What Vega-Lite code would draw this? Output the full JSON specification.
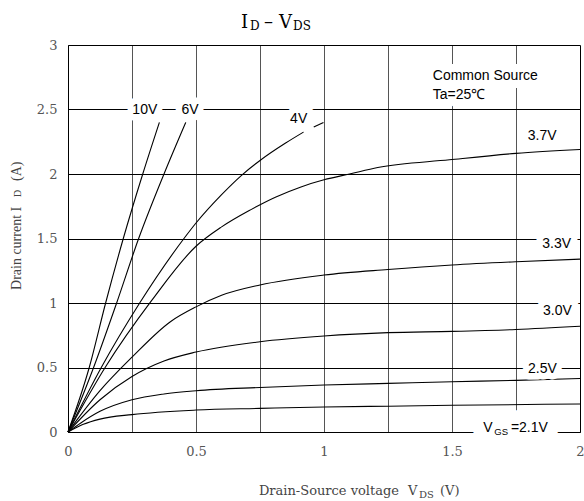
{
  "$schema": "https://vega.github.io/schema/vega-lite/v6.json",
  "width": 512,
  "height": 387,
  "autosize": {"type": "none"},
  "padding": {"left": 68, "top": 45, "right": 4, "bottom": 69},
  "background": "white",
  "config": {"view": {"stroke": null}},
  "datasets": {
    "curves": [
      {"g": "10V", "p": "a", "v": 0, "i": 0}, {"g": "10V", "p": "a", "v": 0.083, "i": 0.5}, {"g": "10V", "p": "a", "v": 0.147, "i": 1.0}, {"g": "10V", "p": "a", "v": 0.216, "i": 1.5}, {"g": "10V", "p": "a", "v": 0.292, "i": 2.0}, {"g": "10V", "p": "a", "v": 0.357, "i": 2.4},
      {"g": "6V", "p": "a", "v": 0, "i": 0}, {"g": "6V", "p": "a", "v": 0.1, "i": 0.5}, {"g": "6V", "p": "a", "v": 0.19, "i": 1.0}, {"g": "6V", "p": "a", "v": 0.276, "i": 1.5}, {"g": "6V", "p": "a", "v": 0.375, "i": 2.0}, {"g": "6V", "p": "a", "v": 0.46, "i": 2.4},
      {"g": "4V", "p": "a", "v": 0, "i": 0}, {"g": "4V", "p": "a", "v": 0.13, "i": 0.5}, {"g": "4V", "p": "a", "v": 0.28, "i": 1.0}, {"g": "4V", "p": "a", "v": 0.453, "i": 1.5}, {"g": "4V", "p": "a", "v": 0.5, "i": 1.62}, {"g": "4V", "p": "a", "v": 0.6, "i": 1.84}, {"g": "4V", "p": "a", "v": 0.678, "i": 1.99}, {"g": "4V", "p": "a", "v": 0.75, "i": 2.105}, {"g": "4V", "p": "a", "v": 0.85, "i": 2.24}, {"g": "4V", "p": "a", "v": 0.92, "i": 2.325},
      {"g": "4V", "p": "b", "v": 0.96, "i": 2.365}, {"g": "4V", "p": "b", "v": 0.998, "i": 2.4},
      {"g": "3.7V", "p": "a", "v": 0, "i": 0}, {"g": "3.7V", "p": "a", "v": 0.145, "i": 0.5}, {"g": "3.7V", "p": "a", "v": 0.327, "i": 1.02}, {"g": "3.7V", "p": "a", "v": 0.5, "i": 1.44}, {"g": "3.7V", "p": "a", "v": 0.6, "i": 1.59}, {"g": "3.7V", "p": "a", "v": 0.711, "i": 1.72}, {"g": "3.7V", "p": "a", "v": 0.81, "i": 1.82}, {"g": "3.7V", "p": "a", "v": 0.91, "i": 1.9}, {"g": "3.7V", "p": "a", "v": 1.0, "i": 1.955}, {"g": "3.7V", "p": "a", "v": 1.1, "i": 2.0}, {"g": "3.7V", "p": "a", "v": 1.21, "i": 2.05}, {"g": "3.7V", "p": "a", "v": 1.49, "i": 2.11}, {"g": "3.7V", "p": "a", "v": 1.75, "i": 2.16}, {"g": "3.7V", "p": "a", "v": 2.0, "i": 2.19},
      {"g": "3.3V", "p": "a", "v": 0, "i": 0}, {"g": "3.3V", "p": "a", "v": 0.125, "i": 0.32}, {"g": "3.3V", "p": "a", "v": 0.25, "i": 0.58}, {"g": "3.3V", "p": "a", "v": 0.4, "i": 0.855}, {"g": "3.3V", "p": "a", "v": 0.5, "i": 0.97}, {"g": "3.3V", "p": "a", "v": 0.6, "i": 1.06}, {"g": "3.3V", "p": "a", "v": 0.75, "i": 1.14}, {"g": "3.3V", "p": "a", "v": 1.0, "i": 1.217}, {"g": "3.3V", "p": "a", "v": 1.25, "i": 1.26}, {"g": "3.3V", "p": "a", "v": 1.5, "i": 1.295}, {"g": "3.3V", "p": "a", "v": 1.75, "i": 1.32}, {"g": "3.3V", "p": "a", "v": 2.0, "i": 1.34},
      {"g": "3.0V", "p": "a", "v": 0, "i": 0}, {"g": "3.0V", "p": "a", "v": 0.125, "i": 0.25}, {"g": "3.0V", "p": "a", "v": 0.25, "i": 0.43}, {"g": "3.0V", "p": "a", "v": 0.375, "i": 0.55}, {"g": "3.0V", "p": "a", "v": 0.5, "i": 0.62}, {"g": "3.0V", "p": "a", "v": 0.75, "i": 0.7}, {"g": "3.0V", "p": "a", "v": 1.0, "i": 0.744}, {"g": "3.0V", "p": "a", "v": 1.25, "i": 0.77}, {"g": "3.0V", "p": "a", "v": 1.5, "i": 0.78}, {"g": "3.0V", "p": "a", "v": 1.75, "i": 0.795}, {"g": "3.0V", "p": "a", "v": 2.0, "i": 0.82},
      {"g": "2.5V", "p": "a", "v": 0, "i": 0}, {"g": "2.5V", "p": "a", "v": 0.05, "i": 0.07}, {"g": "2.5V", "p": "a", "v": 0.125, "i": 0.16}, {"g": "2.5V", "p": "a", "v": 0.25, "i": 0.25}, {"g": "2.5V", "p": "a", "v": 0.375, "i": 0.295}, {"g": "2.5V", "p": "a", "v": 0.5, "i": 0.32}, {"g": "2.5V", "p": "a", "v": 0.75, "i": 0.345}, {"g": "2.5V", "p": "a", "v": 1.0, "i": 0.364}, {"g": "2.5V", "p": "a", "v": 1.25, "i": 0.377}, {"g": "2.5V", "p": "a", "v": 1.5, "i": 0.39}, {"g": "2.5V", "p": "a", "v": 1.75, "i": 0.4}, {"g": "2.5V", "p": "a", "v": 2.0, "i": 0.415},
      {"g": "2.1V", "p": "a", "v": 0, "i": 0}, {"g": "2.1V", "p": "a", "v": 0.06, "i": 0.06}, {"g": "2.1V", "p": "a", "v": 0.125, "i": 0.1}, {"g": "2.1V", "p": "a", "v": 0.25, "i": 0.135}, {"g": "2.1V", "p": "a", "v": 0.5, "i": 0.17}, {"g": "2.1V", "p": "a", "v": 0.75, "i": 0.183}, {"g": "2.1V", "p": "a", "v": 1.0, "i": 0.194}, {"g": "2.1V", "p": "a", "v": 1.25, "i": 0.2}, {"g": "2.1V", "p": "a", "v": 1.5, "i": 0.207}, {"g": "2.1V", "p": "a", "v": 2.0, "i": 0.217}
    ],
    "labels": [
      {"k": "c", "t": "10V", "v": 0.3, "i": 2.5},
      {"k": "c", "t": "6V", "v": 0.477, "i": 2.5},
      {"k": "c", "t": "4V", "v": 0.901, "i": 2.426},
      {"k": "c", "t": "3.7V", "v": 1.852, "i": 2.295},
      {"k": "c", "t": "3.3V", "v": 1.909, "i": 1.46},
      {"k": "c", "t": "3.0V", "v": 1.912, "i": 0.938},
      {"k": "c", "t": "2.5V", "v": 1.853, "i": 0.49},
      {"k": "n", "t": "Common Source", "v": 1.425, "i": 2.762},
      {"k": "n", "t": "Ta=25℃", "v": 1.425, "i": 2.612},
      {"k": "g", "t": "V", "v": 1.622, "i": 0.003},
      {"k": "g", "t": "=2.1V", "v": 1.73, "i": 0.003},
      {"k": "gs", "t": "GS", "v": 1.665, "i": -0.025},
      {"k": "tm", "t": "I", "v": 0.676, "i": 3.1295},
      {"k": "tm", "t": "–", "v": 0.766, "i": 3.1295},
      {"k": "tm", "t": "V", "v": 0.824, "i": 3.1295},
      {"k": "ts", "t": "D", "v": 0.711, "i": 3.12},
      {"k": "ts", "t": "DS", "v": 0.879, "i": 3.12},
      {"k": "xr", "t": "Drain-Source voltage", "v": 1.293, "i": -0.488},
      {"k": "xl", "t": "V", "v": 1.328, "i": -0.488},
      {"k": "xl", "t": "(V)", "v": 1.453, "i": -0.488},
      {"k": "xs", "t": "DS", "v": 1.371, "i": -0.508},
      {"k": "yl", "t": "Drain current  I", "v": -0.184, "i": 1.101},
      {"k": "yl", "t": "(A)", "v": -0.184, "i": 1.946},
      {"k": "ys", "t": "D", "v": -0.184, "i": 1.822}
    ]
  },
  "encoding": {
    "x": {
      "field": "v", "type": "quantitative",
      "scale": {"domain": [0, 2], "nice": false, "zero": false},
      "axis": {
        "title": null,
        "values": [0, 0.25, 0.5, 0.75, 1, 1.25, 1.5, 1.75, 2],
        "labelExpr": "datum.value % 0.5 == 0 ? format(datum.value, '') : ''",
        "ticks": false,
        "domainColor": "black",
        "domainWidth": 1,
        "grid": true,
        "gridColor": {"condition": {"test": "datum.value == 2 || datum.value == 0", "value": "black"}, "value": "#555555"},
        "gridWidth": 1,
        "gridOpacity": 1,
        "labelFont": "DejaVu Serif",
        "labelFontSize": 13,
        "labelColor": "#555555",
        "labelPadding": 13,
        "labelFlush": false,
        "labelOverlap": false
      }
    },
    "y": {
      "field": "i", "type": "quantitative",
      "scale": {"domain": [0, 3], "nice": false, "zero": false},
      "axis": {
        "title": null,
        "values": [0, 0.5, 1, 1.5, 2, 2.5, 3],
        "labelExpr": "format(datum.value, '')",
        "ticks": false,
        "domainColor": "black",
        "domainWidth": 1,
        "grid": true,
        "gridColor": "black",
        "gridWidth": 1,
        "gridOpacity": 1,
        "labelFont": "DejaVu Serif",
        "labelFontSize": 13,
        "labelColor": "#555555",
        "labelPadding": 11,
        "labelFlush": false,
        "labelOverlap": false
      }
    }
  },
  "layer": [
    {
      "data": {"name": "curves"},
      "mark": {"type": "line", "color": "black", "strokeWidth": 1.1, "interpolate": "monotone"},
      "encoding": {"detail": [{"field": "g", "type": "nominal"}, {"field": "p", "type": "nominal"}]}
    },
    {
      "data": {"name": "labels"},
      "transform": [{"filter": "datum.k == 'c'"}],
      "mark": {"type": "text", "font": "Liberation Sans", "fontSize": 14, "align": "center", "baseline": "middle", "fill": "white", "stroke": "white", "strokeWidth": 13, "strokeJoin": "round"},
      "encoding": {"text": {"field": "t"}}
    },
    {
      "data": {"name": "labels"},
      "transform": [{"filter": "datum.k == 'n'"}],
      "mark": {"type": "text", "font": "Liberation Sans", "fontSize": 14, "align": "left", "baseline": "middle", "fill": "white", "stroke": "white", "strokeWidth": 16, "strokeJoin": "round"},
      "encoding": {"text": {"field": "t"}}
    },
    {
      "data": {"name": "labels"},
      "transform": [{"filter": "datum.k == 'g'"}],
      "mark": {"type": "text", "font": "Liberation Sans", "fontSize": 14, "align": "left", "baseline": "alphabetic", "fill": "white", "stroke": "white", "strokeWidth": 26, "strokeJoin": "round"},
      "encoding": {"text": {"field": "t"}}
    },
    {
      "data": {"name": "labels"},
      "transform": [{"filter": "datum.k == 'c'"}],
      "mark": {"type": "text", "font": "Liberation Sans", "fontSize": 14, "align": "center", "baseline": "middle", "color": "black"},
      "encoding": {"text": {"field": "t"}}
    },
    {
      "data": {"name": "labels"},
      "transform": [{"filter": "datum.k == 'n'"}],
      "mark": {"type": "text", "font": "Liberation Sans", "fontSize": 14, "align": "left", "baseline": "middle", "color": "black"},
      "encoding": {"text": {"field": "t"}}
    },
    {
      "data": {"name": "labels"},
      "transform": [{"filter": "datum.k == 'g'"}],
      "mark": {"type": "text", "font": "Liberation Sans", "fontSize": 14, "align": "left", "baseline": "alphabetic", "color": "black"},
      "encoding": {"text": {"field": "t"}}
    },
    {
      "data": {"name": "labels"},
      "transform": [{"filter": "datum.k == 'gs'"}],
      "mark": {"type": "text", "font": "Liberation Sans", "fontSize": 9.5, "align": "left", "baseline": "alphabetic", "color": "black"},
      "encoding": {"text": {"field": "t"}}
    },
    {
      "data": {"name": "labels"},
      "transform": [{"filter": "datum.k == 'tm'"}],
      "mark": {"type": "text", "font": "DejaVu Serif", "fontSize": 18, "align": "left", "baseline": "alphabetic", "color": "black"},
      "encoding": {"text": {"field": "t"}}
    },
    {
      "data": {"name": "labels"},
      "transform": [{"filter": "datum.k == 'ts'"}],
      "mark": {"type": "text", "font": "DejaVu Serif", "fontSize": 12, "align": "left", "baseline": "alphabetic", "color": "black"},
      "encoding": {"text": {"field": "t"}}
    },
    {
      "data": {"name": "labels"},
      "transform": [{"filter": "datum.k == 'xr'"}],
      "mark": {"type": "text", "font": "DejaVu Serif", "fontSize": 13, "align": "right", "baseline": "alphabetic", "color": "#444444"},
      "encoding": {"text": {"field": "t"}}
    },
    {
      "data": {"name": "labels"},
      "transform": [{"filter": "datum.k == 'xl'"}],
      "mark": {"type": "text", "font": "DejaVu Serif", "fontSize": 13, "align": "left", "baseline": "alphabetic", "color": "#444444"},
      "encoding": {"text": {"field": "t"}}
    },
    {
      "data": {"name": "labels"},
      "transform": [{"filter": "datum.k == 'xs'"}],
      "mark": {"type": "text", "font": "DejaVu Serif", "fontSize": 10, "align": "left", "baseline": "alphabetic", "color": "#444444"},
      "encoding": {"text": {"field": "t"}}
    },
    {
      "data": {"name": "labels"},
      "transform": [{"filter": "datum.k == 'yl'"}],
      "mark": {"type": "text", "font": "Liberation Serif", "fontSize": 14, "align": "left", "baseline": "alphabetic", "angle": 270, "color": "#444444"},
      "encoding": {"text": {"field": "t"}}
    },
    {
      "data": {"name": "labels"},
      "transform": [{"filter": "datum.k == 'ys'"}],
      "mark": {"type": "text", "font": "Liberation Serif", "fontSize": 10, "align": "left", "baseline": "alphabetic", "angle": 270, "color": "#444444"},
      "encoding": {"text": {"field": "t"}}
    }
  ]
}
